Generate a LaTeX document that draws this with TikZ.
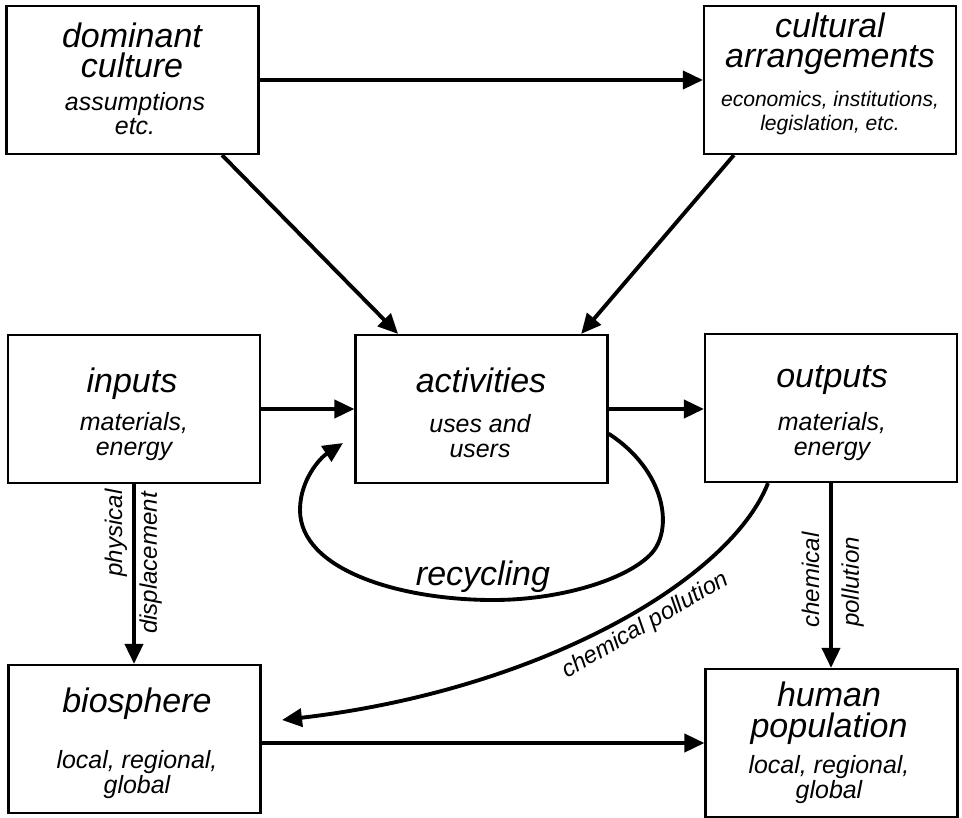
\documentclass[tikz,border=0pt]{standalone}
\usepackage{fontspec}
\setmainfont{Liberation Sans}
\usetikzlibrary{arrows.meta,positioning}

\tikzset{
  box/.style={draw, line width=1.25pt, minimum width=5.04cm, minimum height=2.96cm, inner sep=0pt},
  flow/.style={line width=2.2pt, -{Triangle[length=0.4cm,width=0.36cm]}},
  ttl/.style={font=\itshape\fontsize{19.35}{17.6}\selectfont, align=center, anchor=base, inner sep=0pt},
  sub/.style={font=\itshape\fontsize{14.2}{13.9}\selectfont, align=center, anchor=base, inner sep=0pt},
  subsmall/.style={sub, font=\itshape\fontsize{12}{13.7}\selectfont},
  lbl/.style={font=\itshape\fontsize{13.7}{13.7}\selectfont, inner sep=0pt, rotate=90},
  curvelbl/.style={font=\itshape\fontsize{13.5}{13.5}\selectfont, inner sep=2.5pt}
}

\begin{document}
\begin{tikzpicture}[x=0.02cm, y=-0.02cm]
  \useasboundingbox (0,0) rectangle (962,817);

  % Boxes
  \node[box] (dom) at (132.5,80) {};
  \node[box] (arr) at (830,80) {};
  \node[box] (inp) at (134,409) {};
  \node[box] (act) at (481.5,409) {};
  \node[box] (out) at (831,408) {};
  \node[box] (bio) at (134.5,739) {};
  \node[box] (hum) at (831.5,743) {};

  % Box texts (base = last line)
  \node[ttl] (domT) at (132,78) {dominant\\culture};
  \node[sub] (domS) at (135,135) {assumptions\\etc.};
  \node[ttl] (arrT) at (830,68) {cultural\\arrangements};
  \node[subsmall] (arrS) at (830,131) {economics, institutions,\\legislation, etc.};
  \node[ttl] (inpT) at (132,392) {inputs};
  \node[sub] (inpS) at (134,455) {materials,\\energy};
  \node[ttl] (actT) at (481,392) {activities};
  \node[sub] (actS) at (480,457) {uses and\\users};
  \node[ttl] (outT) at (832,387) {outputs};
  \node[sub] (outS) at (832,455) {materials,\\energy};
  \node[ttl] (bioT) at (137,712) {biosphere};
  \node[sub] (bioS) at (137,793) {local, regional,\\global};
  \node[ttl] (humT) at (829,737) {human\\population};
  \node[sub] (humS) at (829,798) {local, regional,\\global};

  % Culture arrows
  \draw[flow] (dom.east) -- (arr.west);
  \draw[flow] (dom.-40) -- (act.138);
  \draw[flow] (arr.218) -- (act.37);

  % Material flow
  \draw[flow] (inp.east) -- (inp.east -| act.west);
  \draw[flow] (act.east) -- (act.east -| out.west);
  \draw[flow] (inp.south) -- (inp.south |- bio.north);
  \draw[flow] (out.south) -- (out.south |- hum.north);
  \draw[flow] (bio.east |- hum.west) -- (hum.west);

  % Side labels
  \node[lbl, anchor=base] (phys) at (122,533) {physical};
  \node[lbl, anchor=north] (displ) at (139,563) {displacement};
  \node[lbl, anchor=base] (chem) at (819,580) {chemical};
  \node[lbl, anchor=north] (poll) at (841,582) {pollution};

  % Recycling loop
  \coordinate (recEnd) at (343,443);
  \draw[flow] (act.-11) .. controls (665,470) and (675,530) .. (650,555)
    .. controls (625,580) and (560,600) .. (493,600)
    .. controls (400,600) and (300,570) .. (300,510)
    .. controls (300,480) and (320,458) .. (recEnd);
  \node[ttl] (recLbl) at (483,585) {recycling};

  % Chemical pollution to biosphere
  \coordinate (bioTip) at (282,720);
  \draw[flow] (out.-130) .. controls (730,580) and (540,690) .. (bioTip)
    node[pos=0.44, sloped, below, curvelbl] (chemLbl) {chemical pollution};
\end{tikzpicture}
\end{document}
